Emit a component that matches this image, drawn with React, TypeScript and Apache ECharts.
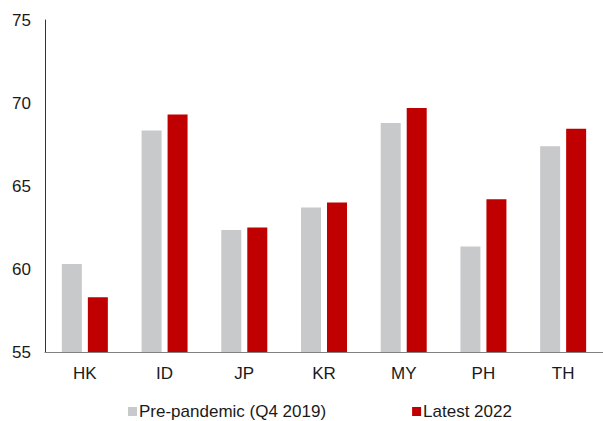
import React, { useEffect, useRef } from "react";
import * as echarts from "echarts";

const categories = ["HK", "ID", "JP", "KR", "MY", "PH", "TH"];
const prePandemic = [60.3, 68.35, 62.35, 63.7, 68.8, 61.35, 67.4];
const latest2022 = [58.3, 69.3, 62.5, 64.0, 69.7, 64.2, 68.45];
const seriesNames = ["Pre-pandemic (Q4 2019)", "Latest 2022"];

export default function App() {
  const ref = useRef<HTMLDivElement>(null);
  useEffect(() => {
    document.body.style.margin = "0";
    const chart = echarts.init(ref.current!, null, { renderer: "svg" });
    const font = "Liberation Sans, Arial, sans-serif";
    chart.setOption({
      animation: false,
      textStyle: { fontFamily: font },
      grid: { left: 45, right: -5, top: 20, bottom: 69, containLabel: false },
      legend: {
        left: 123,
        top: 398,
        padding: 5,
        itemWidth: 9,
        itemHeight: 9,
        itemGap: 86,
        icon: "rect",
        textStyle: { fontSize: 17, color: "#1a1a1a", fontFamily: font, padding: [0, 0, 0, -3] },
        data: seriesNames,
      },
      xAxis: {
        type: "category",
        data: categories,
        axisLine: { lineStyle: { color: "#808080", width: 1 } },
        axisTick: { show: false },
        axisLabel: { fontSize: 17, color: "#1a1a1a", margin: 13, fontFamily: font },
      },
      yAxis: {
        type: "value",
        min: 55,
        max: 75,
        interval: 5,
        axisLine: { show: true, lineStyle: { color: "#333333", width: 1 } },
        axisTick: { show: false },
        splitLine: { show: false },
        axisLabel: { fontSize: 17, color: "#1a1a1a", margin: 14, fontFamily: font },
      },
      series: [
        {
          name: seriesNames[0],
          type: "bar",
          data: prePandemic,
          barWidth: 20,
          barGap: "30%",
          itemStyle: { color: "#c8c9cb" },
        },
        {
          name: seriesNames[1],
          type: "bar",
          data: latest2022,
          barWidth: 20,
          itemStyle: { color: "#c00000" },
        },
      ],
    });
    return () => chart.dispose();
  }, []);
  return (
    <div
      ref={ref}
      style={{ position: "absolute", left: 0, top: 0, width: 603, height: 421 }}
    />
  );
}
